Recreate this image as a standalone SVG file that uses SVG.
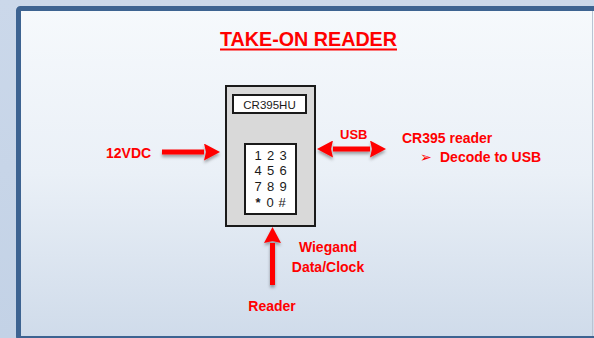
<svg xmlns="http://www.w3.org/2000/svg" width="594" height="338" viewBox="0 0 594 338">
<defs>
<linearGradient id="bg" x1="0" y1="0" x2="0" y2="1">
<stop offset="0" stop-color="#f6f9fc"/>
<stop offset="0.5" stop-color="#eaf0f7"/>
<stop offset="1" stop-color="#cfdbea"/>
</linearGradient>
<linearGradient id="outer" x1="0" y1="0" x2="0" y2="1">
<stop offset="0" stop-color="#cbd8ea"/>
<stop offset="1" stop-color="#c3d2e6"/>
</linearGradient>
<filter id="sh" x="-20%" y="-50%" width="140%" height="200%">
<feDropShadow dx="0" dy="2.5" stdDeviation="1.6" flood-color="#000" flood-opacity="0.35"/>
</filter>
<marker id="ah" viewBox="0 0 16 17" markerUnits="userSpaceOnUse" markerWidth="16" markerHeight="17" refX="0" refY="8.5" orient="auto-start-reverse">
<path d="M0,0 L16,8.5 L0,17 L2,8.5 Z" fill="#ff0000"/>
</marker>
</defs>
<style>
.lbl{font-family:"Liberation Sans",Arial,sans-serif;font-weight:bold;fill:#ff0000;font-size:14px}
.dev{fill:#d9d9d9;stroke:#1a1a1a;stroke-width:2}
.wb{fill:#ffffff;stroke:#1a1a1a;stroke-width:2}
.txt{font-family:"Liberation Sans",Arial,sans-serif;fill:#1a1a1a;font-size:13px;text-anchor:middle}
.con{stroke:#ff0000;stroke-width:5;fill:none}
</style>
<rect x="0" y="0" width="594" height="338" fill="url(#outer)"/>
<rect x="18.5" y="8.5" width="590" height="330" rx="2" fill="url(#bg)" stroke="#3d6391" stroke-width="5"/>
<line x1="592.5" y1="11" x2="592.5" y2="336" stroke="#b9c4d2" stroke-width="1"/>

<g id="title">
<text x="308.5" y="46" class="lbl" style="font-size:19.5px" text-anchor="middle" textLength="177" lengthAdjust="spacingAndGlyphs">TAKE-ON READER</text>
<line x1="220" y1="49.5" x2="397" y2="49.5" stroke="#ff0000" stroke-width="2"/>
</g>

<g id="device">
<rect class="dev" x="226" y="86" width="89" height="140"/>
<rect class="wb" x="233" y="95" width="73" height="18"/>
<text x="269.5" y="109" class="txt" style="font-size:11.5px">CR395HU</text>
<rect class="wb" x="245" y="144" width="51" height="70"/>
<g class="txt">
<text x="258" y="159.5">1</text><text x="270.5" y="159.5">2</text><text x="283" y="159.5">3</text>
<text x="258" y="175">4</text><text x="270.5" y="175">5</text><text x="283" y="175">6</text>
<text x="258" y="191">7</text><text x="270.5" y="191">8</text><text x="283" y="191">9</text>
<text x="258" y="207" style="font-weight:bold">*</text><text x="270" y="207">0</text><text x="282" y="207">#</text>
</g>
</g>

<g id="connectors" filter="url(#sh)">
<line class="con" x1="162" y1="152" x2="204" y2="152" marker-end="url(#ah)"/>
<line class="con" x1="333" y1="149" x2="370" y2="149" marker-start="url(#ah)" marker-end="url(#ah)"/>
<line class="con" x1="272.5" y1="285" x2="272.5" y2="243" marker-end="url(#ah)"/>
</g>

<g id="power"><text x="106" y="157.5" class="lbl">12VDC</text></g>
<g id="usb-label"><text x="340" y="139" class="lbl" style="font-size:13px">USB</text></g>
<g id="cr395-reader">
<text x="402" y="143" class="lbl">CR395 reader</text>
<text x="420" y="162" class="lbl" style="font-size:14px;font-family:'DejaVu Sans',sans-serif">➢</text>
<text x="440" y="162" class="lbl">Decode to USB</text>
</g>
<g id="wiegand">
<text x="328" y="252" class="lbl" text-anchor="middle">Wiegand</text>
<text x="328" y="272" class="lbl" text-anchor="middle">Data/Clock</text>
</g>
<g id="reader"><text x="272" y="311" class="lbl" text-anchor="middle">Reader</text></g>
</svg>
